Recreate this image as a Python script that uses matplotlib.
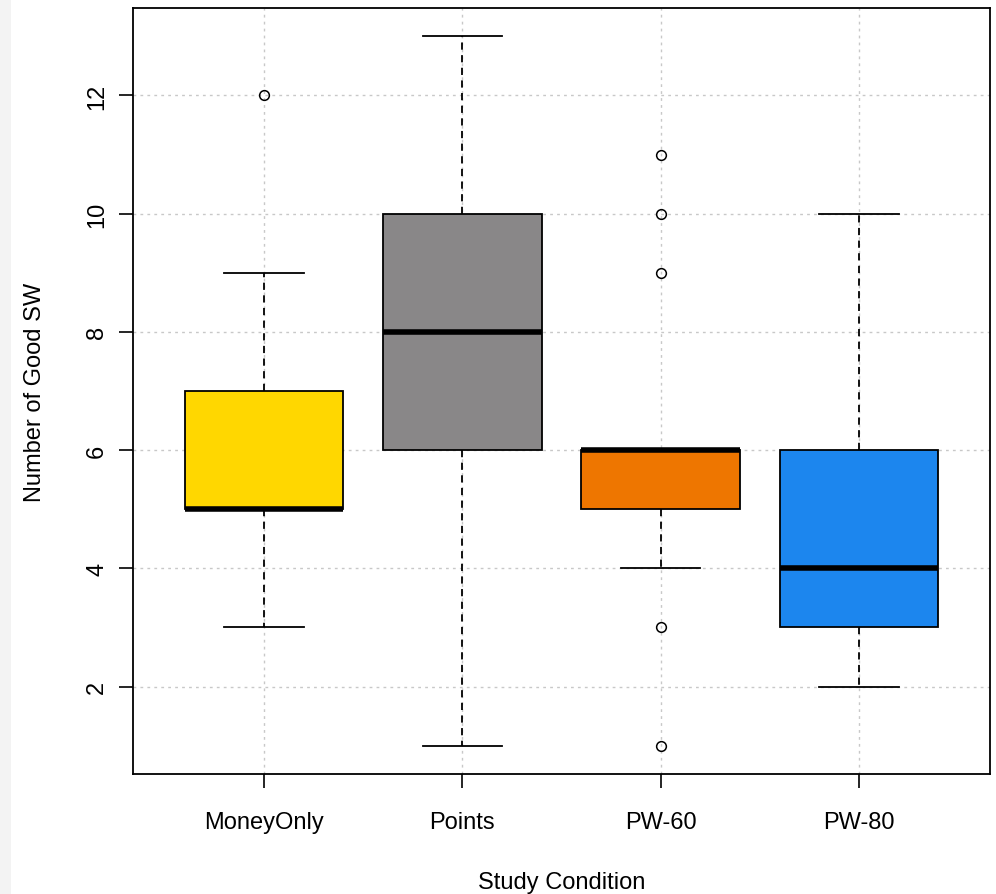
import matplotlib
matplotlib.use('Agg')
import matplotlib.pyplot as plt
from matplotlib.patches import Rectangle

plt.rcParams['font.family'] = ['Liberation Sans', 'DejaVu Sans']

# dados
condicoes = ['MoneyOnly', 'Points', 'PW-60', 'PW-80']
q1 = [5, 6, 5, 3]
mediana = [5, 8, 6, 4]
q3 = [7, 10, 6, 6]
whis_inf = [3, 1, 4, 2]
whis_sup = [9, 13, 6, 10]
outliers = [[12], [], [11, 10, 9, 3, 1], []]
cores = ['#FFD700', '#898788', '#EE7600', '#1C86EE']
yticks = [2, 4, 6, 8, 10, 12]

stats = []
for i, nome in enumerate(condicoes):
    stats.append({'label': nome, 'q1': q1[i], 'med': mediana[i], 'q3': q3[i],
                  'whislo': whis_inf[i], 'whishi': whis_sup[i],
                  'fliers': outliers[i]})

fig = plt.figure(figsize=(9.96, 8.95), dpi=100)
fig.patches.append(Rectangle((0, 0), 11 / 996, 1, transform=fig.transFigure,
                             facecolor='#f3f3f3', edgecolor='none', zorder=0))
ax = fig.add_axes([133 / 996, 1 - 775 / 895, 857 / 996, 766 / 895])

ax.grid(True, color='#c8c8c8', linestyle=(0, (2, 3)), linewidth=1)
ax.set_axisbelow(True)

bp = ax.bxp(stats, positions=[1, 2, 3, 4], widths=0.8, patch_artist=True,
            boxprops=dict(edgecolor='black', linewidth=1.3),
            medianprops=dict(color='black', linewidth=4, solid_capstyle='butt'),
            whiskerprops=dict(color='black', linewidth=1.3, linestyle=(0, (4, 3))),
            capprops=dict(color='black', linewidth=1.3),
            flierprops=dict(marker='o', markerfacecolor='none',
                            markeredgecolor='black', markersize=7,
                            markeredgewidth=1.1),
            capwidths=0.4)
for caixa, cor in zip(bp['boxes'], cores):
    caixa.set_facecolor(cor)

ax.set_xlim(0.34, 4.66)
ax.set_ylim(0.52, 13.48)
ax.set_yticks(yticks)
ax.set_yticklabels([str(v) for v in yticks], rotation=90, va='center')
ax.tick_params(axis='both', length=10, width=1.2, labelsize=17)
ax.tick_params(axis='y', pad=8)
ax.tick_params(axis='x', pad=17)
for s in ax.spines.values():
    s.set_linewidth(1.3)

ax.set_xlabel('Study Condition', fontsize=17, labelpad=27)
ax.set_ylabel('Number of Good SW', fontsize=17, labelpad=29)

fig.savefig('out.png', dpi=100)
